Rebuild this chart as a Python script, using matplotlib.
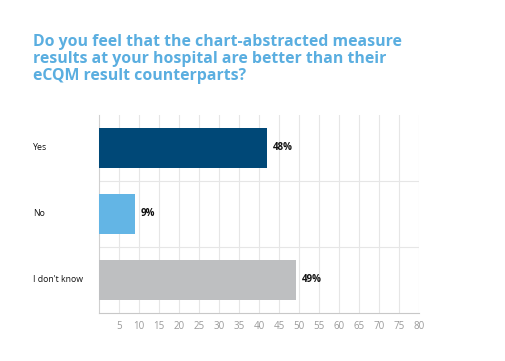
import matplotlib
matplotlib.use('Agg')
import matplotlib.pyplot as plt

# Data (bar lengths as drawn, labels as printed)
categories = ['Yes', 'No', "I don't know"]
bar_values = [42, 9, 49.3]
value_labels = ['48%', '9%', '49%']
colors = ['#004877', '#63b5e5', '#bebfc1']
x_ticks = list(range(5, 81, 5))

plt.rcParams['font.family'] = ['Open Sans', 'DejaVu Sans']

fig = plt.figure(figsize=(5.05, 3.61), dpi=100)
ax = fig.add_axes([0.196, 0.133, 0.6337, 0.5485])

y = list(range(len(categories)))
bars = ax.barh(y, bar_values, height=0.6, color=colors, zorder=3)
ax.set_ylim(len(categories) - 0.5, -0.5)
ax.set_xlim(0, 80)

# vertical grid + category separators
ax.set_xticks(x_ticks)
ax.set_xticklabels([str(t) for t in x_ticks], fontsize=7, color='#9a9a9a')
ax.grid(axis='x', color='#e6e6e6', linewidth=0.8, zorder=0)
for sep in [0.5, 1.5]:
    ax.axhline(sep, color='#e6e6e6', linewidth=0.8, zorder=0)

ax.set_yticks(y)
ax.set_yticklabels([])
for yi, cat in zip(y, categories):
    ax.text(-0.206, yi, cat, transform=ax.get_yaxis_transform(), ha='left',
            va='center', fontsize=6.3, color='#111111')

ax.tick_params(axis='both', length=0, pad=6)
for side in ['top', 'right']:
    ax.spines[side].set_visible(False)
ax.spines['left'].set_color('#d0d0d0')
ax.spines['bottom'].set_color('#c8c8c8')

# value labels
for bar, lab in zip(bars, value_labels):
    ax.annotate(lab, (bar.get_width(), bar.get_y() + bar.get_height() / 2),
                xytext=(4, 0), textcoords='offset points', ha='left', va='center',
                fontsize=7, fontweight='bold', color='#111111')

fig.text(0.065, 0.906, 'Do you feel that the chart-abstracted measure\n'
         'results at your hospital are better than their\n'
         'eCQM result counterparts?', ha='left', va='top', fontsize=11.4,
         fontweight='bold', color='#5aaee0', linespacing=1.1)

fig.savefig('out.png', dpi=100)
